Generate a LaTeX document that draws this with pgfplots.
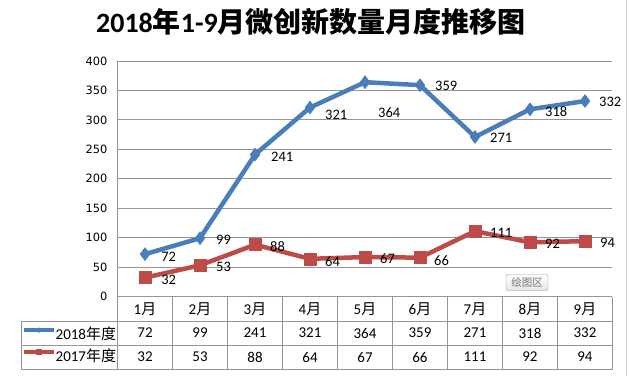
\documentclass[border=0pt]{standalone}
\usepackage{fontspec}
\setmainfont{Carlito}
\newfontfamily\cjk{Noto Sans CJK SC}
\newfontfamily\dejavu{DejaVu Sans}
\usepackage{pgfplots}
\pgfplotsset{compat=1.18}
\usepackage{pgfplotstable}

\definecolor{sblue}{HTML}{4A7EBB}
\definecolor{sred}{HTML}{BE4B48}
\definecolor{gridc}{HTML}{959595}

\pgfplotstableread{
x a b dxa dya dxb dyb
0 72 32 16 -3 16 -2
1 99 53 16 -2 16 -2
2 241 88 16 -2 15 -2
3 321 64 15 -7.5 15 -3
4 364 67 13 -30 15 -2
5 359 66 15 -1 14 -3.5
6 271 111 15 -1 15 -2
7 318 92 15 -2 15 -1
8 332 94 14 -1 15 -2
}\data

\newcommand{\M}[1]{#1{\cjk 月}}

\begin{document}
\begin{tikzpicture}[x=1pt,y=1pt]
\path[use as bounding box] (0,0) rectangle (629,-376);
\draw[gray!35, line width=1pt] (626,0) -- (626,-376);

\node[text=black] at (311,-22) {\fontsize{28}{30}\selectfont\bfseries 2018{\cjk 年}1-9{\cjk 月微创新数量月度推移图}};

\begin{axis}[
  at={(117.5pt,-296.5pt)}, anchor=south west,
  scale only axis, width=495pt, height=235.5pt,
  xmin=-0.5, xmax=8.5, ymin=0, ymax=400,
  xtick={0,...,8},
  xticklabels={\M1,\M2,\M3,\M4,\M5,\M6,\M7,\M8,\M9},
  ytick={0,50,...,400},
  ymajorgrids, grid style={gridc, line width=0.8pt},
  axis x line*=bottom, axis y line*=left,
  axis line style={gridc, line width=0.8pt, -},
  major tick length=0pt,
  /pgf/number format/assume math mode=true,
  yticklabel style={font=\dejavu\fontsize{11.4}{12}\selectfont, xshift=-6.7pt},
  xticklabel style={font=\fontsize{15}{16}\selectfont, anchor=center, yshift=-12.5pt},
  clip=false,
  legend style={at={(axis description cs:-0.193,-0.1315)}, anchor=north west,
    draw=none, fill=none, inner sep=0pt, row sep=8pt,
    font=\fontsize{15}{16}\selectfont,
    nodes={inner sep=0pt, text height=11pt, text depth=2pt},
    /tikz/every even column/.append style={column sep=2pt}},
  legend cell align=left,
  legend image code/.code={\draw[#1, line width=3.5pt, mark size=2.5pt, mark repeat=2, mark phase=2] plot coordinates {(0pt,5pt) (15pt,5pt) (30pt,5pt)};},
]
\addplot[sblue, line width=4.5pt, line join=round, mark=diamond*, mark size=6.5pt,
  mark options={line width=0.5pt},
  point meta=explicit, nodes near coords,
  visualization depends on={\thisrow{dxa}\as\dx},
  visualization depends on={\thisrow{dya}\as\dy},
  nodes near coords style={anchor=west, inner sep=0pt, xshift=\dx pt, yshift=\dy pt,
    font=\fontsize{14.5}{15}\selectfont, text=black}]
  table[x=x, y=a, meta=a] {\data};
\addlegendentry{2018{\cjk 年度}}
\addplot[sred, line width=4.5pt, line join=round, mark=square*, mark size=6pt,
  mark options={line width=0.5pt},
  point meta=explicit, nodes near coords,
  visualization depends on={\thisrow{dxb}\as\dx},
  visualization depends on={\thisrow{dyb}\as\dy},
  nodes near coords style={anchor=west, inner sep=0pt, xshift=\dx pt, yshift=\dy pt,
    font=\fontsize{14.5}{15}\selectfont, text=black}]
  table[x=x, y=b, meta=b] {\data};
\addlegendentry{2017{\cjk 年度}}
% table row values
\addplot[draw=none, mark=none, forget plot, point meta=explicit, nodes near coords,
  nodes near coords style={anchor=center, yshift=-36.5pt, font=\fontsize{15}{16}\selectfont, text=black}]
  table[x=x, y expr=0, meta=a] {\data};
\addplot[draw=none, mark=none, forget plot, point meta=explicit, nodes near coords,
  nodes near coords style={anchor=center, yshift=-60.5pt, font=\fontsize{15}{16}\selectfont, text=black}]
  table[x=x, y expr=0, meta=b] {\data};
\end{axis}

% data table grid
\begin{scope}[gridc, line width=0.8pt]
\draw (21,-321) -- (612.5,-321);
\draw (21,-345) -- (612.5,-345);
\draw (21,-369) -- (612.5,-369);
\draw (21,-321) -- (21,-369);
\foreach \k in {0,...,9} \draw (117.5+55*\k,-296.5) -- (117.5+55*\k,-369);
\end{scope}

\node[draw=gray!80, rounded corners=2pt, top color=white, bottom color=gray!20,
  minimum width=42pt, minimum height=16pt, inner sep=1pt, text=gray!90!black,
  font=\cjk\fontsize{10.5}{11}\selectfont] at (527,-282.5) {绘图区};
\end{tikzpicture}
\end{document}
